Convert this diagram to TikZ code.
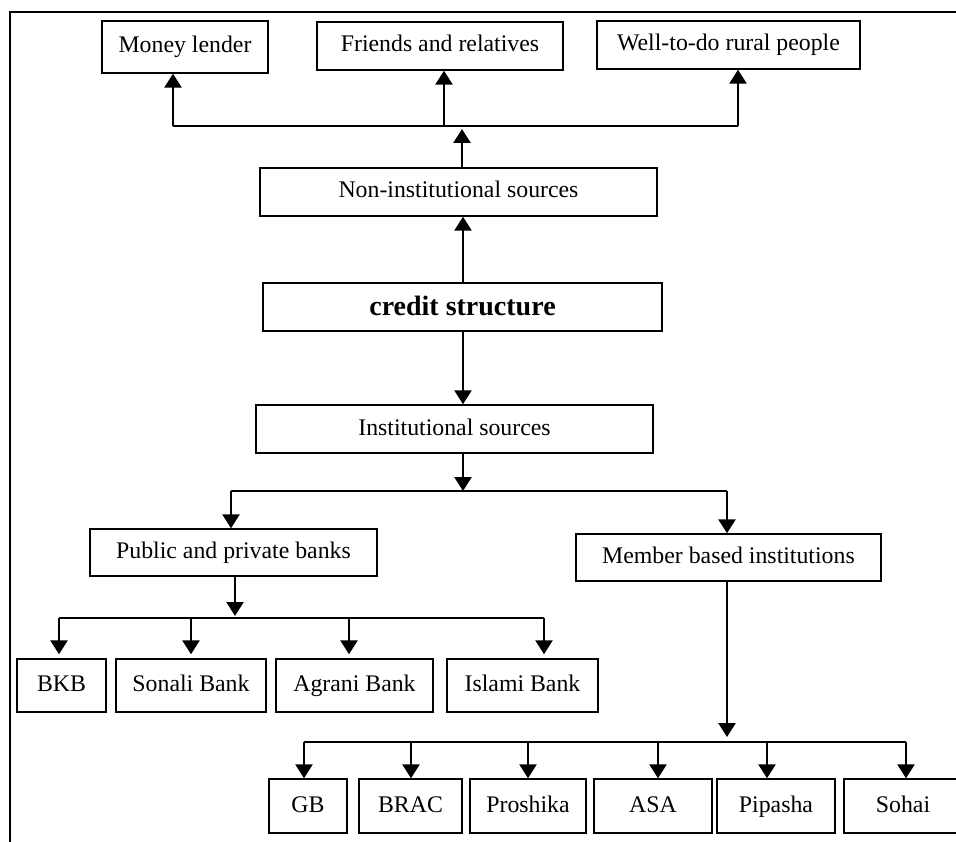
\documentclass[tikz,border=0pt]{standalone}
\usepackage{fontspec}
\setmainfont{Liberation Serif}
\usetikzlibrary{arrows.meta}
\tikzset{
  box/.style={draw, line width=1.4pt, inner sep=0pt, text height=17pt, text depth=5pt, font=\fontsize{23.8}{28}\selectfont},
  boldbox/.style={box, text height=24pt, text depth=6pt, font=\fontsize{28}{32}\selectfont\bfseries},
  arr/.style={line width=2.6pt, -{Triangle[width=17pt,length=14pt]}},
  busline/.style={line width=1.7pt},
  frameline/.style={line width=2.4pt}
}
\begin{document}
\begin{tikzpicture}[x=1pt,y=-1pt]
\useasboundingbox (0,0) rectangle (956,842);
% frame
\coordinate (fbl) at (10,845);
\coordinate (ftl) at (10,12);
\coordinate (ftr) at (960,12);
\draw[frameline] (fbl) -- (ftl) -- (ftr);

% top row
\node[box, minimum width=166pt, minimum height=52pt] (ml) at (185,47) {Money lender};
\node[box, minimum width=246pt, minimum height=48pt] (fr) at (440,46) {Friends and relatives};
\node[box, minimum width=263pt, minimum height=48pt] (wp) at (728.5,45) {Well-to-do rural people};

% non-institutional
\node[box, minimum width=397pt, minimum height=48pt] (ni) at (458.5,192) {Non-institutional sources};
% credit structure
\node[boldbox, minimum width=399pt, minimum height=48pt] (cs) at (462.5,307) {credit structure};
% institutional
\node[box, minimum width=397pt, minimum height=48pt] (is) at (454.5,429) {Institutional sources};

% second level
\node[box, minimum width=287pt, minimum height=47pt] (pb) at (233.5,552.5) {Public and private banks};
\node[box, minimum width=305pt, minimum height=47pt] (mb) at (728.5,557.5) {Member based institutions};

% banks
\node[box, minimum width=89pt, minimum height=53pt] (bkb) at (61.5,685.5) {BKB};
\node[box, minimum width=150pt, minimum height=53pt] (sb) at (191,685.5) {Sonali Bank};
\node[box, minimum width=157pt, minimum height=53pt] (ab) at (354.5,685.5) {Agrani Bank};
\node[box, minimum width=151pt, minimum height=53pt] (ib) at (522.5,685.5) {Islami Bank};

% member institutions
\node[box, minimum width=78pt, minimum height=54pt] (gb) at (308,806) {GB};
\node[box, minimum width=103pt, minimum height=54pt] (brac) at (410.5,806) {BRAC};
\node[box, minimum width=116pt, minimum height=54pt] (pro) at (528,806) {Proshika};
\node[box, minimum width=118pt, minimum height=54pt] (asa) at (653,806) {ASA};
\node[box, minimum width=118pt, minimum height=54pt] (pip) at (776,806) {Pipasha};
\node[box, minimum width=118pt, minimum height=54pt] (soh) at (903,806) {Sohai};

% top bus
\coordinate (t1) at (173,126);
\coordinate (t2) at (444,126);
\coordinate (t3) at (738,126);
\coordinate (tin) at (462,129);
\draw[busline] (t1) -- (t3);
\draw[arr] (t1) -- (t1 |- ml.south);
\draw[arr] (t2) -- (t2 |- fr.south);
\draw[arr] (t3) -- (t3 |- wp.south);
\draw[arr] (tin |- ni.north) -- (tin);

% credit to non-inst and inst
\coordinate (cx) at (463,0);
\draw[arr] (cx |- cs.north) -- (cx |- ni.south);
\draw[arr] (cx |- cs.south) -- (cx |- is.north);

% institutional bus
\coordinate (m0) at (463,491);
\coordinate (m1) at (231,491);
\coordinate (m2) at (727,491);
\draw[busline] (m1) -- (m2);
\draw[arr] (m0 |- is.south) -- (m0);
\draw[arr] (m1) -- (m1 |- pb.north);
\draw[arr] (m2) -- (m2 |- mb.north);

% bank bus
\coordinate (b0) at (235,616);
\coordinate (b1) at (59,618);
\coordinate (b2) at (191,618);
\coordinate (b3) at (349,618);
\coordinate (b4) at (544,618);
\draw[busline] (b1) -- (b4);
\draw[arr] (b0 |- pb.south) -- (b0);
\draw[arr, shorten >=4pt] (b1) -- (b1 |- bkb.north);
\draw[arr, shorten >=4pt] (b2) -- (b2 |- sb.north);
\draw[arr, shorten >=4pt] (b3) -- (b3 |- ab.north);
\draw[arr, shorten >=4pt] (b4) -- (b4 |- ib.north);

% member bus
\coordinate (c0) at (727,737);
\coordinate (c1) at (304,742);
\coordinate (c2) at (411,742);
\coordinate (c3) at (528,742);
\coordinate (c4) at (658,742);
\coordinate (c5) at (767,742);
\coordinate (c6) at (906,742);
\draw[busline] (c1) -- (c6);
\draw[arr] (c0 |- mb.south) -- (c0);
\draw[arr] (c1) -- (c1 |- gb.north);
\draw[arr] (c2) -- (c2 |- brac.north);
\draw[arr] (c3) -- (c3 |- pro.north);
\draw[arr] (c4) -- (c4 |- asa.north);
\draw[arr] (c5) -- (c5 |- pip.north);
\draw[arr] (c6) -- (c6 |- soh.north);
\end{tikzpicture}
\end{document}
